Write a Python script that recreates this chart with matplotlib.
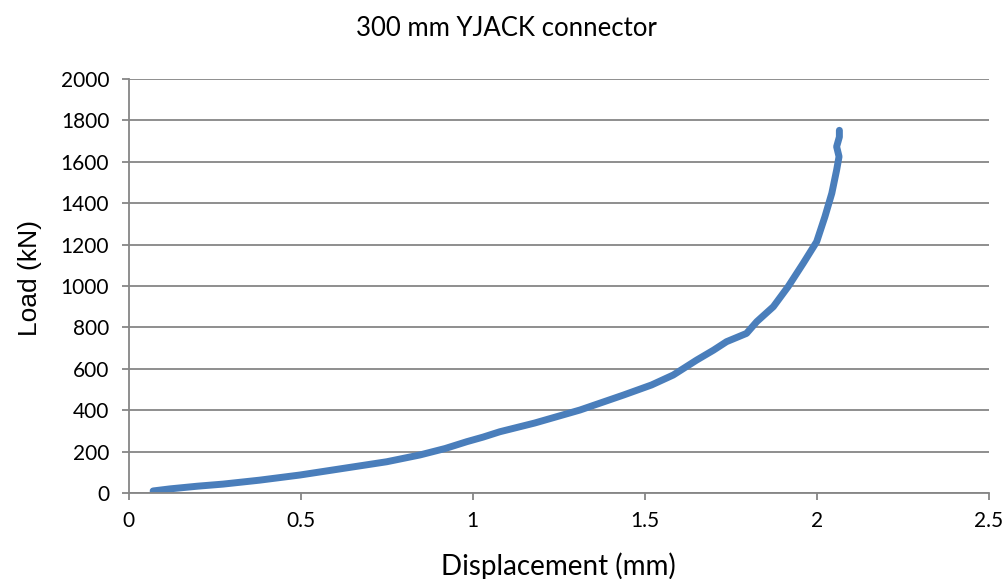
import matplotlib
matplotlib.use("Agg")
from matplotlib import pyplot as plt

# valores (desplazamiento en mm, carga en kN)
displacement = [0.071, 0.12, 0.20, 0.274, 0.38, 0.498, 0.62, 0.75, 0.847, 0.92, 0.983,
                1.03, 1.079, 1.18, 1.312, 1.438, 1.52, 1.583, 1.651, 1.70, 1.738,
                1.796, 1.826, 1.874, 1.917, 1.961, 2.0, 2.024, 2.044, 2.058, 2.065,
                2.058, 2.066, 2.066]
load = [10, 20, 33, 43, 62, 87, 118, 151, 184, 215, 248,
        270, 296, 338, 401, 473, 522, 570, 642, 690, 731,
        771, 828, 900, 997, 1110, 1214, 1335, 1448, 1560, 1625,
        1673, 1720, 1752]

x_ticks = [0, 0.5, 1, 1.5, 2, 2.5]
x_tick_labels = ['0', '0.5', '1', '1.5', '2', '2.5']
y_ticks = [0, 200, 400, 600, 800, 1000, 1200, 1400, 1600, 1800, 2000]

plt.rcParams['font.family'] = ['Lato', 'DejaVu Sans']

fig = plt.figure(figsize=(10.07, 5.79), dpi=100)
ax = fig.add_axes([0.1278, 0.1485, 0.854, 0.7151])

ax.plot(displacement, load, color='#4A7EBB', linewidth=5, solid_capstyle='round',
        solid_joinstyle='round')

ax.set_xlim(0, 2.5)
ax.set_ylim(0, 2000)
ax.set_xticks(x_ticks)
ax.set_xticklabels(x_tick_labels)
ax.set_yticks(y_ticks)

gris = '#868686'
ax.yaxis.grid(True, color=gris, linewidth=1.3)
ax.set_axisbelow(True)
for lado in ['top', 'right']:
    ax.spines[lado].set_visible(False)
for lado in ['left', 'bottom']:
    ax.spines[lado].set_color(gris)
    ax.spines[lado].set_linewidth(1.3)
ax.tick_params(axis='both', colors=gris, direction='out', length=5, width=1.3,
               labelcolor='black', labelsize=15)
ax.tick_params(axis='x', pad=8)
ax.tick_params(axis='y', pad=9)

fig.suptitle('300 mm YJACK connector', x=0.503, y=0.9516, va='center', fontsize=18.5)
ax.set_xlabel('Displacement (mm)', fontsize=20)
ax.xaxis.set_label_coords(0.5, -0.143)
ax.set_ylabel('Load (kN)', fontsize=19, family=['Liberation Sans', 'DejaVu Sans'])
ax.yaxis.set_label_coords(-0.101, 0.52)

fig.savefig('out.png', dpi=100)
